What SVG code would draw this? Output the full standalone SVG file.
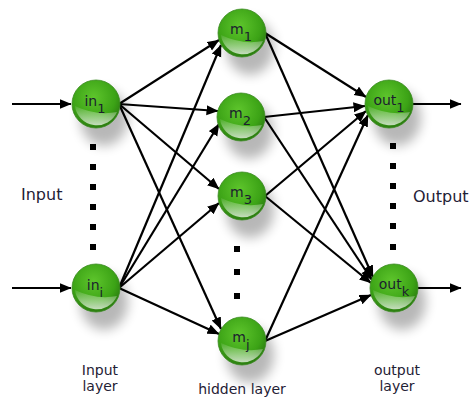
<svg xmlns="http://www.w3.org/2000/svg" width="474" height="401" viewBox="0 0 474 401">
<style>
.lbl{font-family:"DejaVu Sans","Liberation Sans",sans-serif;font-size:14px;fill:#1b1f2e}
.sub{font-size:13px}
.txt{font-family:"DejaVu Sans","Liberation Sans",sans-serif;fill:#1f2135}
.big{font-size:16px}
.small{font-size:14px}
.edge{stroke:#000;stroke-width:2.2;fill:none;marker-end:url(#arr)}
.dot{fill:#000}
</style>
<defs>
<radialGradient id="sph" cx="0.45" cy="0.36" r="0.64">
<stop offset="0" stop-color="#5ec52c"/>
<stop offset="0.7" stop-color="#3ca316"/>
<stop offset="1" stop-color="#2b7c10"/>
</radialGradient>
<linearGradient id="gloss" x1="0" y1="0" x2="0" y2="1">
<stop offset="0" stop-color="#ffffff" stop-opacity="0.08"/>
<stop offset="1" stop-color="#ffffff" stop-opacity="0.72"/>
</linearGradient>
<filter id="blur" x="-60%" y="-60%" width="220%" height="220%"><feGaussianBlur stdDeviation="6"/></filter>
<marker id="arr" markerUnits="userSpaceOnUse" markerWidth="13" markerHeight="11" refX="11.5" refY="5" orient="auto">
<path d="M0,0 L12,5 L0,10 Z" fill="#000"/>
</marker>
<g id="ball">
<ellipse cx="8" cy="14" rx="24" ry="28" fill="#000" opacity="0.28" filter="url(#blur)"/>
<circle r="24" fill="url(#sph)" stroke="#3b8a22" stroke-width="0.8"/>
<path d="M-21,2 Q0,12 21,8 A22,22 0 0 1 -21,2 Z" fill="url(#gloss)"/>
</g>
</defs>
<rect width="474" height="401" fill="#fff"/>

<g id="connectors">
<line class="edge" x1="12" y1="104" x2="71" y2="104"/>
<line class="edge" x1="12" y1="288" x2="71" y2="288"/>
<line class="edge" x1="119" y1="104" x2="219" y2="40"/>
<line class="edge" x1="119" y1="104" x2="218" y2="111"/>
<line class="edge" x1="119" y1="104" x2="219" y2="189"/>
<line class="edge" x1="119" y1="104" x2="221" y2="329"/>
<line class="edge" x1="119" y1="288" x2="221" y2="45"/>
<line class="edge" x1="119" y1="288" x2="219" y2="124"/>
<line class="edge" x1="119" y1="288" x2="219" y2="203"/>
<line class="edge" x1="119" y1="288" x2="219" y2="334"/>
<line class="edge" x1="265" y1="33" x2="366" y2="97"/>
<line class="edge" x1="264" y1="117" x2="365" y2="106"/>
<line class="edge" x1="265" y1="196" x2="366" y2="111"/>
<line class="edge" x1="265" y1="341" x2="368" y2="115"/>
<line class="edge" x1="265" y1="33" x2="373" y2="277"/>
<line class="edge" x1="264" y1="117" x2="372" y2="280"/>
<line class="edge" x1="265" y1="196" x2="371" y2="283"/>
<line class="edge" x1="265" y1="341" x2="371" y2="295"/>
<line class="edge" x1="413" y1="104" x2="461" y2="104"/>
<line class="edge" x1="418" y1="288" x2="461" y2="288"/>
</g>

<g id="dots">
<rect class="dot" x="90" y="144" width="6" height="6"/>
<rect class="dot" x="90" y="164" width="6" height="6"/>
<rect class="dot" x="90" y="184" width="6" height="6"/>
<rect class="dot" x="90" y="204" width="6" height="6"/>
<rect class="dot" x="90" y="224" width="6" height="6"/>
<rect class="dot" x="90" y="244" width="6" height="6"/>
<rect class="dot" x="234" y="246" width="6" height="6"/>
<rect class="dot" x="234" y="269" width="6" height="6"/>
<rect class="dot" x="234" y="293" width="6" height="6"/>
<rect class="dot" x="390" y="143" width="6" height="6"/>
<rect class="dot" x="390" y="163" width="6" height="6"/>
<rect class="dot" x="390" y="183" width="6" height="6"/>
<rect class="dot" x="390" y="203" width="6" height="6"/>
<rect class="dot" x="390" y="223" width="6" height="6"/>
<rect class="dot" x="390" y="244" width="6" height="6"/>
</g>

<g id="in1"><use href="#ball" transform="translate(96,104)"/><text class="lbl" x="95" y="106" text-anchor="middle">in<tspan class="sub" dy="7">1</tspan></text></g>
<g id="ini"><use href="#ball" transform="translate(96,288)"/><text class="lbl" x="95" y="290" text-anchor="middle">in<tspan class="sub" dy="7">i</tspan></text></g>
<g id="m1"><use href="#ball" transform="translate(242,33)"/><text class="lbl" x="241" y="34" text-anchor="middle">m<tspan class="sub" dy="7">1</tspan></text></g>
<g id="m2"><use href="#ball" transform="translate(241,117)"/><text class="lbl" x="240" y="118" text-anchor="middle">m<tspan class="sub" dy="7">2</tspan></text></g>
<g id="m3"><use href="#ball" transform="translate(242,196)"/><text class="lbl" x="241" y="197" text-anchor="middle">m<tspan class="sub" dy="7">3</tspan></text></g>
<g id="mj"><use href="#ball" transform="translate(242,341)"/><text class="lbl" x="241" y="342" text-anchor="middle">m<tspan class="sub" dy="7">j</tspan></text></g>
<g id="out1"><use href="#ball" transform="translate(389,104)"/><text class="lbl" x="389" y="105" text-anchor="middle">out<tspan class="sub" dy="7">1</tspan></text></g>
<g id="outk"><use href="#ball" transform="translate(394,288)"/><text class="lbl" x="394" y="289" text-anchor="middle">out<tspan class="sub" dy="7">k</tspan></text></g>

<g id="labels">
<text class="txt big" x="21" y="200">Input</text>
<text class="txt big" x="413" y="202">Output</text>
<text class="txt small" x="100" y="375" text-anchor="middle">Input</text>
<text class="txt small" x="100" y="391" text-anchor="middle">layer</text>
<text class="txt small" x="242" y="394" text-anchor="middle">hidden layer</text>
<text class="txt small" x="397" y="375" text-anchor="middle">output</text>
<text class="txt small" x="397" y="391" text-anchor="middle">layer</text>
</g>
</svg>
